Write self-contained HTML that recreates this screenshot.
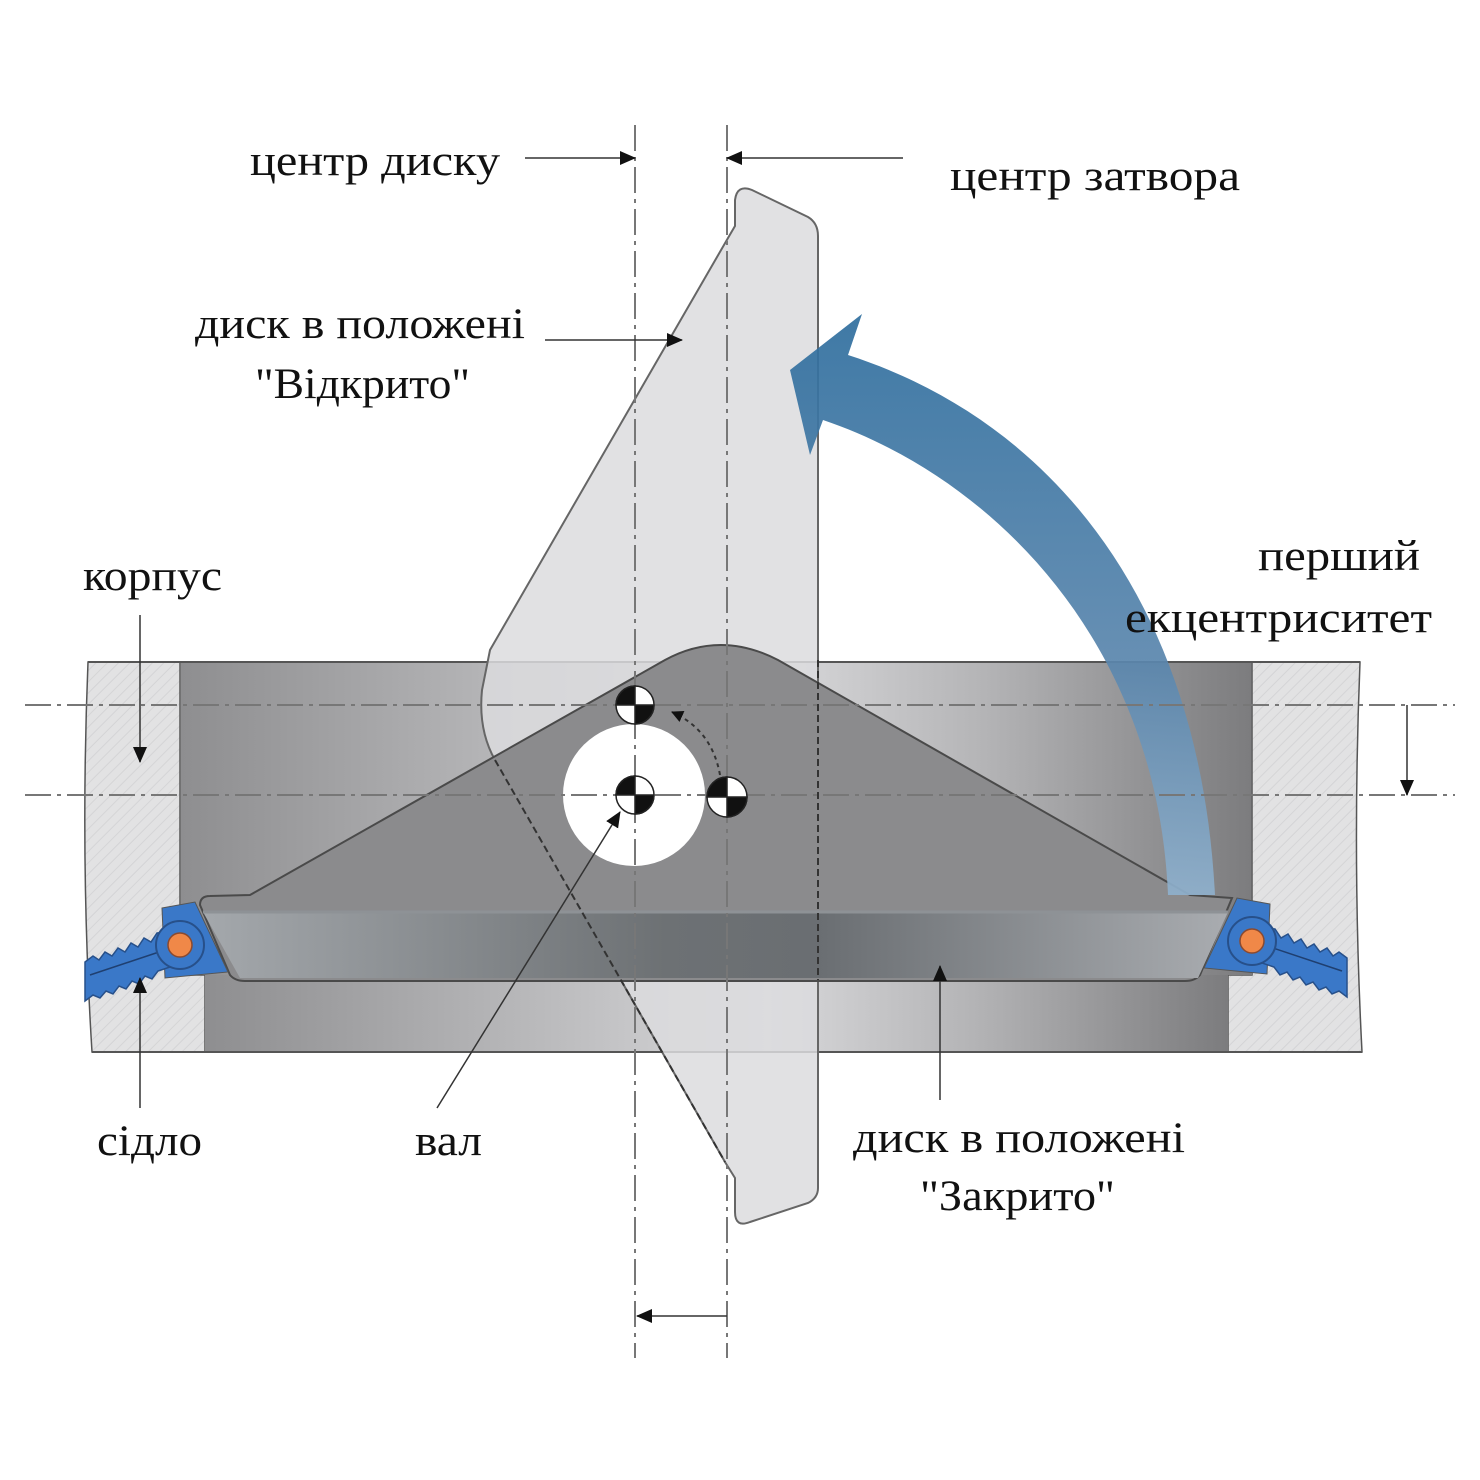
<!DOCTYPE html>
<html><head><meta charset="utf-8"><style>
body{margin:0;background:#fff}
svg{display:block}
text{font-family:"Liberation Serif","DejaVu Serif",serif;font-size:43px;fill:#111}
</style></head><body>
<svg width="1480" height="1480" viewBox="0 0 1480 1480" xmlns="http://www.w3.org/2000/svg">
<defs>
<linearGradient id="bore" x1="0" x2="1" y1="0" y2="0">
<stop offset="0" stop-color="#8e8e90"/><stop offset="0.35" stop-color="#bdbdbf"/>
<stop offset="0.55" stop-color="#d9d9db"/><stop offset="0.75" stop-color="#b4b4b6"/>
<stop offset="1" stop-color="#7c7c7e"/></linearGradient>
<linearGradient id="bar" x1="0" x2="1" y1="0" y2="0">
<stop offset="0" stop-color="#a4a8ac"/><stop offset="0.45" stop-color="#6d7174"/>
<stop offset="0.6" stop-color="#6a6e72"/><stop offset="1" stop-color="#a9acb0"/></linearGradient>
<linearGradient id="arr" x1="0" x2="0" y1="0" y2="1">
<stop offset="0" stop-color="#2f6e9e"/><stop offset="0.6" stop-color="#5a86ad"/>
<stop offset="1" stop-color="#8fb0cc"/></linearGradient>
<pattern id="hatch" width="8" height="8" patternUnits="userSpaceOnUse" patternTransform="rotate(45)">
<rect width="8" height="8" fill="#e2e2e3"/><line x1="0" y1="0" x2="0" y2="8" stroke="#d4d4d6" stroke-width="2"/></pattern>
<marker id="ah" markerWidth="12" markerHeight="12" refX="11" refY="6" orient="auto" markerUnits="userSpaceOnUse">
<path d="M0,0 L12,6 L0,12 Z" fill="#111"/></marker>
<marker id="ah2" markerWidth="16" markerHeight="28" refX="15" refY="7" orient="auto" markerUnits="userSpaceOnUse" viewBox="0 0 16 14">
<path d="M0,0 L16,7 L0,14 Z" fill="#111"/></marker>
</defs>

<path d="M88,662 L180,662 L180,975 L205,975 L205,1052 L92,1052 Q80,860 88,662Z" fill="url(#hatch)" stroke="#555" stroke-width="1.5"/>
<path d="M1252,662 L1360,662 Q1352,860 1362,1052 L1228,1052 L1228,975 L1252,975Z" fill="url(#hatch)" stroke="#555" stroke-width="1.5"/>
<rect x="180" y="662" width="1072" height="313" fill="url(#bore)"/>
<rect x="205" y="975" width="1023" height="77" fill="url(#bore)"/>
<line x1="88" y1="662" x2="1360" y2="662" stroke="#555" stroke-width="2"/>
<line x1="92" y1="1052" x2="1362" y2="1052" stroke="#555" stroke-width="2"/>
<line x1="180" y1="662" x2="180" y2="975" stroke="#555"/>
<line x1="1252" y1="662" x2="1252" y2="900" stroke="#555"/>

<path d="M735,200 Q737,184 752,190 L808,217 Q818,223 818,236 L818,1188 Q818,1198 808,1203 L750,1222 Q735,1228 735,1212 L735,1178 L725,1162 L495,760 Q478,730 482,690 L490,650 L728,238 L735,226 Z" fill="#dcdcde" fill-opacity="0.85" stroke="#666" stroke-width="2"/>

<path d="M250,895 L665,660 Q720,630 778,660 L1190,895 L1232,898 L1200,975 Q1195,981 1185,981 L245,981 Q235,981 230,975 L200,905 Q200,896 210,896 Z" fill="#8b8b8d" stroke="#4a4a4a" stroke-width="2"/>
<path d="M203,912 L1228,912 L1198,978 L240,978 Z" fill="url(#bar)"/>
<line x1="203" y1="912" x2="1228" y2="912" stroke="#8e9296" stroke-width="3"/>
<line x1="495" y1="760" x2="725" y2="1162" stroke="#333" stroke-width="2" stroke-dasharray="7,4"/>
<line x1="818" y1="660" x2="818" y2="980" stroke="#333" stroke-width="2" stroke-dasharray="7,4"/>

<path d="M790,370 L862,314 L848,355 C1050,420 1200,600 1215,895 L1168,895 C1158,650 1000,480 823,420 L810,455 Z" fill="url(#arr)" fill-opacity="0.92"/>

<circle cx="634" cy="795" r="71" fill="#fff"/>

<g stroke="#777" stroke-width="2" stroke-dasharray="26,6,4,6" fill="none">
<line x1="25" y1="705" x2="1455" y2="705"/>
<line x1="25" y1="795" x2="1455" y2="795"/>
<line x1="635" y1="125" x2="635" y2="1358"/>
<line x1="727" y1="125" x2="727" y2="1358"/>
</g>

<path d="M720,775 Q712,730 672,712" fill="none" stroke="#333" stroke-width="2" stroke-dasharray="4,4" marker-end="url(#ah)"/>

<g stroke="#222" stroke-width="1.5">
<g transform="translate(635,705)"><circle r="19" fill="#fff"/><path d="M0,0 L0,-19 A19,19 0 0 0 -19,0Z M0,0 L0,19 A19,19 0 0 0 19,0Z" fill="#111"/></g>
<g transform="translate(635,795)"><circle r="19" fill="#fff"/><path d="M0,0 L0,-19 A19,19 0 0 0 -19,0Z M0,0 L0,19 A19,19 0 0 0 19,0Z" fill="#111"/></g>
<g transform="translate(727,797)"><circle r="20" fill="#fff"/><path d="M0,0 L0,-20 A20,20 0 0 0 -20,0Z M0,0 L0,20 A20,20 0 0 0 20,0Z" fill="#111"/></g>
</g>

<g>
<path d="M162,908 L195,902 L228,972 L165,978 Z" fill="#3a78c8" stroke="#555"/>
<path d="M85,962 l8,-6 l6,4 l6,-8 l7,4 l6,-8 l7,4 l6,-9 l7,4 l6,-9 l7,4 l6,-9 l25,-2 l6,30 l-30,10 l-6,8 l-7,-3 l-6,8 l-7,-3 l-6,8 l-7,-3 l-6,8 l-7,-3 l-6,7 l-7,-3 l-8,6 Z" fill="#3a78c8" stroke="#27508a" stroke-width="1.5"/>
<line x1="90" y1="975" x2="180" y2="945" stroke="#1f3f70" stroke-width="1.5"/>
<circle cx="180" cy="945" r="24" fill="#3a78c8" stroke="#27508a" stroke-width="2"/>
<circle cx="180" cy="945" r="12" fill="#f08848" stroke="#8a4a30" stroke-width="1.5"/>
</g>
<g transform="translate(1432,-4) scale(-1,1)">
<path d="M162,908 L195,902 L228,972 L165,978 Z" fill="#3a78c8" stroke="#555"/>
<path d="M85,962 l8,-6 l6,4 l6,-8 l7,4 l6,-8 l7,4 l6,-9 l7,4 l6,-9 l7,4 l6,-9 l25,-2 l6,30 l-30,10 l-6,8 l-7,-3 l-6,8 l-7,-3 l-6,8 l-7,-3 l-6,8 l-7,-3 l-6,7 l-7,-3 l-8,6 Z" fill="#3a78c8" stroke="#27508a" stroke-width="1.5"/>
<line x1="90" y1="975" x2="180" y2="945" stroke="#1f3f70" stroke-width="1.5"/>
<circle cx="180" cy="945" r="24" fill="#3a78c8" stroke="#27508a" stroke-width="2"/>
<circle cx="180" cy="945" r="12" fill="#f08848" stroke="#8a4a30" stroke-width="1.5"/>
</g>

<g stroke="#333" stroke-width="1.5" fill="none">
<line x1="525" y1="158" x2="635" y2="158" marker-end="url(#ah2)"/>
<line x1="903" y1="158" x2="727" y2="158" marker-end="url(#ah2)"/>
<line x1="545" y1="340" x2="682" y2="340" marker-end="url(#ah2)"/>
<line x1="140" y1="615" x2="140" y2="762" marker-end="url(#ah2)"/>
<line x1="140" y1="1108" x2="140" y2="978" marker-end="url(#ah2)"/>
<line x1="437" y1="1108" x2="620" y2="812" marker-end="url(#ah2)"/>
<line x1="940" y1="1100" x2="940" y2="966" marker-end="url(#ah2)"/>
<line x1="1407" y1="705" x2="1407" y2="795" marker-end="url(#ah2)"/>
<line x1="727" y1="1316" x2="637" y2="1316" marker-end="url(#ah2)"/>
</g>

<g lengthAdjust="spacingAndGlyphs">
<text x="250" y="175" textLength="250" lengthAdjust="spacingAndGlyphs">центр диску</text>
<text x="950" y="190" textLength="290" lengthAdjust="spacingAndGlyphs">центр затвора</text>
<text x="195" y="338" textLength="330" lengthAdjust="spacingAndGlyphs">диск в положені</text>
<text x="255" y="398" textLength="215" lengthAdjust="spacingAndGlyphs">"Відкрито"</text>
<text x="83" y="590" textLength="139" lengthAdjust="spacingAndGlyphs">корпус</text>
<text x="1258" y="570" textLength="162" lengthAdjust="spacingAndGlyphs">перший</text>
<text x="1125" y="632" textLength="307" lengthAdjust="spacingAndGlyphs">екцентриситет</text>
<text x="97" y="1155" textLength="105" lengthAdjust="spacingAndGlyphs">сідло</text>
<text x="415" y="1155" textLength="67" lengthAdjust="spacingAndGlyphs">вал</text>
<text x="853" y="1152" textLength="332" lengthAdjust="spacingAndGlyphs">диск в положені</text>
<text x="920" y="1210" textLength="195" lengthAdjust="spacingAndGlyphs">"Закрито"</text>
</g>
</svg>
</body></html>
